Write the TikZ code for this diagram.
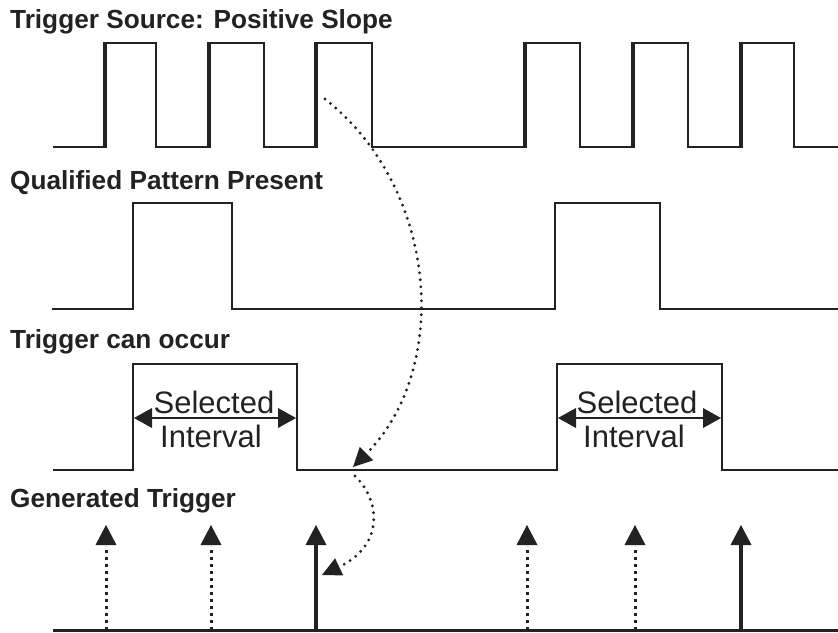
\documentclass[tikz,border=0pt]{standalone}
\usepackage{fontspec}
\setmainfont{Liberation Sans}
\usetikzlibrary{arrows.meta}
\definecolor{ink}{HTML}{222222}
\begin{document}
\begin{tikzpicture}[x=1pt,y=-1pt,
  wave/.style={line width=2.6pt,line join=miter,draw=ink},
  riseedge/.style={line width=4.6pt,draw=ink},
  title/.style={anchor=base west,inner sep=0pt,text=ink,font=\fontsize{26.2}{26}\selectfont\bfseries},
  ivl/.style={anchor=base,inner sep=0pt,text=ink,font=\fontsize{31}{34}\selectfont},
  span/.style={line width=2.6pt,draw=ink,{Triangle[length=18pt,width=20pt,line width=0pt]}-{Triangle[length=18pt,width=20pt,line width=0pt]}},
  trigsolid/.style={line width=3.6pt,draw=ink,-{Triangle[length=20pt,width=21pt,line width=0pt]}},
  trigdot/.style={line width=3pt,draw=ink,dash pattern=on 3pt off 4pt},
  trighead/.style={fill=ink,draw=none},
  curvedot/.style={line width=3.2pt,draw=ink,line cap=round,dash pattern=on 0pt off 7pt,-{Triangle[length=19pt,width=19pt,line width=0pt]}}
]
\useasboundingbox (0,0) rectangle (838,632);
\fill[white] (0,0) rectangle (838,632);

% labels
\node[title] (t1) at (10,28) {Trigger Source: Positive Slope};
\node[title] (t2) at (10,189) {Qualified Pattern Present};
\node[title] (t3) at (10,348) {Trigger can occur};
\node[title] (t4) at (10,507) {Generated Trigger};

% trigger source
\draw[wave] (53,147) -| (105,43) -| (156,147) -| (209,43) -| (264,147) -| (316,43) -| (372,147)
  -| (525,43) -| (580,147) -| (633,43) -| (688,147) -| (741,43) -| (794,147) -- (838,147);
\foreach \x in {105,209,316,525,633,741}
  \draw[riseedge] (\x,148) -- (\x,42);

% qualified pattern
\draw[wave] (52,309) -| (133,203) -| (232,309) -| (555,203) -| (660,309) -- (838,309);

% trigger can occur
\draw[wave] (53,470) -| (133,364) -| (297,470) -| (557,364) -| (722,470) -- (838,470);
\coordinate (a1) at (134,418); \coordinate (b1) at (296,418);
\coordinate (a2) at (558,418); \coordinate (b2) at (721,418);
\draw[span] (a1) -- (b1);
\draw[span] (a2) -- (b2);
\node[ivl] (s1) at (214,413) {Selected};
\node[ivl] (i1) at (211,447) {Interval};
\node[ivl] (s2) at (637,413) {Selected};
\node[ivl] (i2) at (634,447) {Interval};

% generated trigger
\draw[wave,line width=3pt] (53,630) -- (838,630);
\foreach \x/\n in {106/d1,211/d2,527/d3,635/d4}{
  \coordinate (\n b) at (\x,630);
  \coordinate (\n s) at (\x,546);
  \coordinate (\n t) at (\x,525);
  \draw[trigdot] (\n b) -- (\n s);
  \fill[trighead] (\x,525) -- (\x+10.5,545) -- (\x-10.5,545) -- cycle;
}
\foreach \x/\n in {316/g1,741/g2}{
  \coordinate (\n b) at (\x,630);
  \coordinate (\n t) at (\x,525);
  \draw[trigsolid] (\n b) -- (\n t);
}

% dotted causal curve
\coordinate (c0) at (325,99);
\coordinate (c1) at (353,467);
\coordinate (c2) at (355,476);
\coordinate (c3) at (322,575);
\draw[curvedot] (c0) .. controls (440,190) and (450,370) .. (c1);
\draw[curvedot] (c2) .. controls (380,500) and (385,545) .. (c3);
\end{tikzpicture}
\end{document}
